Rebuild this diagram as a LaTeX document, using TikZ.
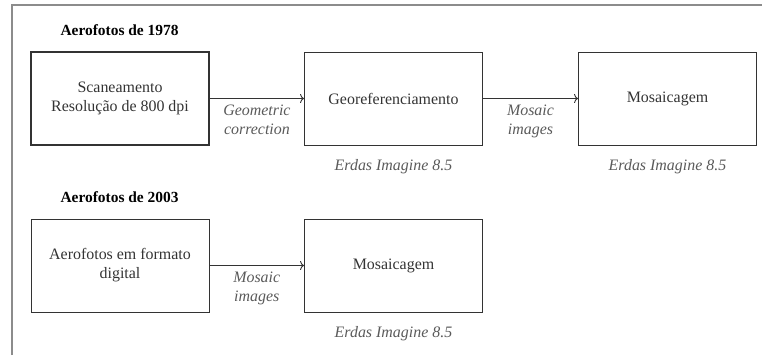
\documentclass[tikz,border=0pt]{standalone}
\usepackage{fontspec}
\setmainfont{Liberation Serif}
\usetikzlibrary{arrows.meta, positioning}
\definecolor{txtgray}{HTML}{333333}
\definecolor{lblgray}{HTML}{5A5A5A}
\definecolor{framegray}{HTML}{8C8C8C}
\tikzset{
  procbox/.style = {draw=txtgray, line width=0.9bp, minimum width=178bp, minimum height=93bp,
                    align=center, text=txtgray, font=\fontsize{16}{19}\selectfont},
  heading/.style = {anchor=west, text=black, font=\fontsize{15.5}{18}\selectfont\bfseries},
  steplbl/.style = {align=center, text=lblgray, font=\fontsize{16}{19}\selectfont\itshape},
  softlbl/.style = {text=lblgray, font=\fontsize{16}{19}\selectfont\itshape}
}

\begin{document}
\begin{tikzpicture}[x=1bp, y=-1bp]
                    \useasboundingbox (0,0) rectangle (762,355);
                    \draw [framegray, line width=1.8bp] (12,355) -- (12,5) -- (762,5);

                    \node (h1) [heading] at (57,30) {Aerofotos de 1978};
                    \node (scan) [procbox, line width=1.6bp] at (120,98.5) {Scaneamento\\Resolução de 800 dpi};
                    \node (geo) [procbox] at (393.5,98.5) {Georeferenciamento};
                    \node (mos1) [procbox] at (667.5,98.5) {Mosaicagem};
                    \node (erd1) [softlbl, below=10bp of geo] {Erdas Imagine 8.5};
                    \node (erd2) [softlbl, below=10bp of mos1] {Erdas Imagine 8.5};

                    \node (h2) [heading] at (57,197) {Aerofotos de 2003};
                    \node (digi) [procbox] at (120,265.5) {Aerofotos em formato\\digital};
                    \node (mos2) [procbox] at (393.5,265.5) {Mosaicagem};
                    \node (erd3) [softlbl, below=10bp of mos2] {Erdas Imagine 8.5};

                    \path [-{To[length=4bp, width=9bp]}, txtgray, line width=0.9bp]
                        (scan) edge node [steplbl, below=3bp] {Geometric\\correction} (geo)
                        (geo) edge node [steplbl, below=3bp] {Mosaic\\images} (mos1)
                        (digi) edge node [steplbl, below=3bp] {Mosaic\\images} (mos2);
                \end{tikzpicture}
\end{document}
